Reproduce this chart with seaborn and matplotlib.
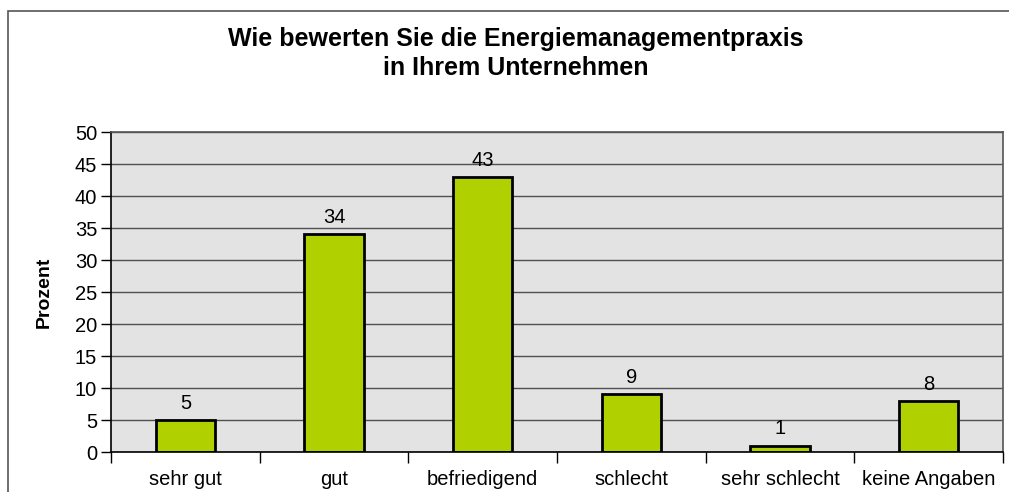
import pandas as pd
import numpy as np
import matplotlib
matplotlib.use("Agg")
import matplotlib.pyplot as plt
import seaborn as sns
from matplotlib.patches import Rectangle

# Daten
kategorien = ["sehr gut", "gut", "befriedigend", "schlecht", "sehr schlecht", "keine Angaben"]
prozent = [5, 34, 43, 9, 1, 8]

df = pd.DataFrame({"kategorie": kategorien, "prozent": prozent})

sns.set_style("white")
plt.rcParams["font.family"] = ["Liberation Sans", "DejaVu Sans"]
plt.rcParams["text.color"] = "black"
plt.rcParams["axes.labelcolor"] = "black"
plt.rcParams["xtick.color"] = "black"
plt.rcParams["ytick.color"] = "black"

fig = plt.figure(figsize=(10.09, 4.92), dpi=100)
ax = fig.add_axes([0.110, 0.0813, 0.884, 0.6504])

# Rahmen um das Diagramm
fig.patches.append(Rectangle((8 / 1009, -0.1), 1.2, 1 - 11 / 492 + 0.1,
                             transform=fig.transFigure, fill=False,
                             edgecolor="#555555", linewidth=1.2, clip_on=False))

ax.set_facecolor("#E3E3E3")
sns.barplot(data=df, x="kategorie", y="prozent", color="#B0D000",
            width=0.4, edgecolor="black", linewidth=2, saturation=1, ax=ax)

ax.set_ylim(0, 50)
ax.set_xlim(-0.5, 5.5)
ax.set_yticks(range(0, 51, 5))
ax.yaxis.grid(True, color="#505050", linewidth=1)
ax.set_axisbelow(True)

for spine in ax.spines.values():
    spine.set_visible(True)
    spine.set_color("#555555")
    spine.set_linewidth(1.2)
ax.spines["bottom"].set_color("black")
ax.spines["left"].set_color("black")

ax.tick_params(axis="y", which="major", direction="out", length=7, width=1,
               labelsize=14.5, pad=3, left=True)
ax.tick_params(axis="x", which="major", length=0, labelsize=14.5, pad=13)
ax.set_xticks(np.arange(-0.5, 6, 1), minor=True)
ax.tick_params(axis="x", which="minor", direction="out", length=8, width=1,
               bottom=True)

for i, v in enumerate(prozent):
    ax.text(i, v + 2.6, str(v), ha="center", va="center", fontsize=14.5)

ax.set_xlabel("")
ax.set_ylabel("Prozent", fontsize=14, fontweight="bold", labelpad=16)

fig.text(0.5114, 0.891, "Wie bewerten Sie die Energiemanagementpraxis\nin Ihrem Unternehmen",
         ha="center", va="center", fontsize=18, fontweight="bold", linespacing=1.25)

fig.savefig("out.png", dpi=100)
